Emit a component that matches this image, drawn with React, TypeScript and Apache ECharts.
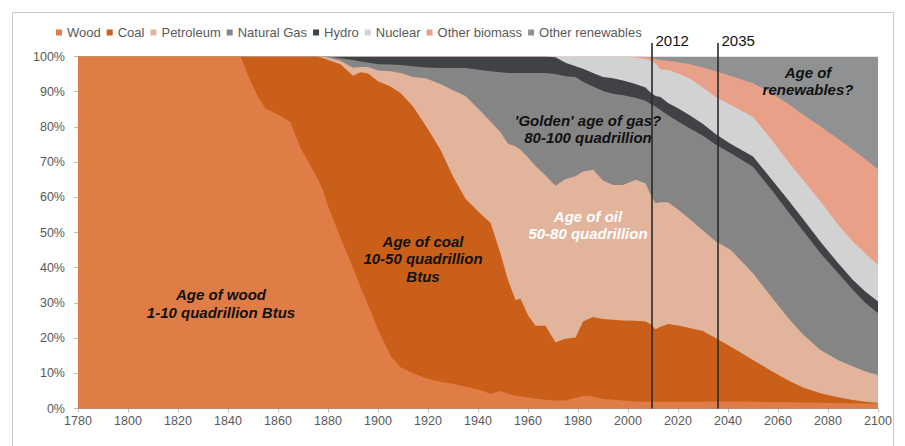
import React, { useEffect, useRef } from "react";
import * as echarts from "echarts";

const FONT = "'Liberation Sans', Arial, sans-serif";

const years = [
  1780, 1845, 1849, 1852, 1855, 1860, 1865, 1869, 1875, 1878,
  1880, 1885, 1890, 1893, 1896, 1900, 1905, 1909, 1914, 1919,
  1925, 1930, 1935, 1941, 1945, 1949, 1952, 1955, 1957, 1960, 1963, 1967,
  1971, 1975, 1979, 1982, 1986, 1990, 1994, 1998, 2003,
  2007, 2009, 2011, 2013, 2016, 2020, 2025, 2030, 2035,
  2041, 2050, 2057, 2064, 2070, 2077, 2084, 2090, 2095, 2100,
];

const wood = [
  100, 100, 93, 88.6, 85.2, 83.5, 81.3, 74, 66.5, 62,
  57.5, 48.5, 40, 34.5, 29.5, 22.5, 15, 11.7, 10, 8.7,
  7.6, 7.0, 6.2, 5.2, 4.2, 5.0, 4.2, 3.6, 3.4, 3.1, 2.8, 2.5,
  2.3, 2.3, 3.0, 3.6, 3.4, 2.7, 2.5, 2.3, 2.0,
  1.9, 1.9, 1.9, 1.9, 1.9, 1.9, 1.9, 1.9, 2.0,
  2.0, 1.9, 1.8, 1.8, 1.7, 1.6, 1.5, 1.5, 1.4, 1.4,
];

const coal = [
  0, 0, 7, 11.4, 14.8, 16.5, 18.7, 26, 33.5, 37.6,
  41.5, 49.3, 54.5, 61, 65.7, 70.5, 76.5, 77.9, 75.8, 71.8,
  65.9, 58.9, 53.4, 50.1, 48.6, 39, 32.3, 27.2, 27.8, 23.4, 20.7, 21.0,
  16.5, 17.5, 17.2, 21.1, 22.6, 22.7, 22.7, 22.7, 22.9,
  22.8, 22.1, 20.6, 21.3, 22.1, 21.7, 20.9, 20.1, 18.0,
  15.6, 11.9, 9.0, 6.2, 4.3, 2.7, 1.7, 0.9, 0.5, 0.2,
];

const petroleum = [
  0, 0, 0, 0, 0, 0, 0, 0, 0, 0.4,
  0.7, 1.0, 2.3, 1.5, 1.8, 3.0, 4.3, 5.7, 8.4, 13.3,
  18.7, 24.5, 29.2, 29.2, 28.7, 34.5, 38.7, 43.7, 42.3, 44.8, 45.4, 42.7,
  44.5, 45.4, 45.8, 42.6, 41.8, 39.4, 38.3, 38.5, 40.1,
  39.3, 36.8, 35.8, 35.4, 34.6, 32.9, 30.8, 28.6, 27.5,
  27.5, 24.6, 21.2, 17.8, 15.0, 12.3, 10.6, 9.5, 8.6, 7.9,
];

const naturalGas = [
  0, 0, 0, 0, 0, 0, 0, 0, 0, 0,
  0.3, 0.7, 2.2, 1.6, 1.3, 1.8, 1.9, 2.3, 3.0, 3.1,
  4.5, 6.3, 7.9, 11.7, 14.3, 17, 20.1, 20.8, 21.8, 24.0, 26.4, 29.1,
  31.7, 29.2, 28.2, 25.5, 23.7, 25.4, 25.9, 25.5, 23.3,
  23.4, 25.7, 27.4, 26.2, 24.7, 25.0, 25.9, 26.9, 27.5,
  27.5, 30.3, 30.5, 30.2, 29.5, 27.5, 24.7, 21.8, 19.5, 17.6,
];

const hydro = [
  0, 0, 0, 0, 0, 0, 0, 0, 0, 0,
  0, 0.5, 1.0, 1.4, 1.7, 2.2, 2.3, 2.4, 2.8, 3.1,
  3.3, 3.3, 3.3, 3.8, 4.2, 4.5, 4.7, 4.7, 4.7, 4.7, 4.7, 4.7,
  4.8, 3.8, 3.0, 3.7, 3.8, 4.0, 4.4, 4.2, 3.9,
  3.8, 3.3, 3.1, 3.7, 3.5, 3.8, 3.7, 3.3, 3.0,
  2.6, 2.9, 3.0, 3.3, 3.3, 3.3, 2.8, 2.8, 3.2, 3.3,
];

const nuclear = [
  0, 0, 0, 0, 0, 0, 0, 0, 0, 0,
  0, 0, 0, 0, 0, 0, 0, 0, 0, 0,
  0, 0, 0, 0, 0, 0, 0, 0, 0, 0, 0, 0,
  0.2, 1.8, 2.8, 3.5, 4.7, 5.8, 6.2, 6.8, 7.5,
  8.0, 9.0, 9.2, 7.9, 9.4, 9.9, 10.4, 10.4, 10.5,
  11.1, 11.2, 11.3, 10.9, 11.2, 11.4, 11.0, 10.9, 10.8, 10.4,
];

const otherBiomass = [
  0, 0, 0, 0, 0, 0, 0, 0, 0, 0,
  0, 0, 0, 0, 0, 0, 0, 0, 0, 0,
  0, 0, 0, 0, 0, 0, 0, 0, 0, 0, 0, 0,
  0, 0, 0, 0, 0, 0, 0, 0, 0.3,
  0.7, 0.9, 1.3, 2.6, 2.6, 3.2, 4.2, 5.7, 7.3,
  8.2, 9.6, 13.0, 16.4, 18.5, 21.3, 24.3, 26.1, 26.8, 27.2,
];

const otherRenewables = [
  0, 0, 0, 0, 0, 0, 0, 0, 0, 0,
  0, 0, 0, 0, 0, 0, 0, 0, 0, 0,
  0, 0, 0, 0, 0, 0, 0, 0, 0, 0, 0, 0,
  0, 0, 0, 0, 0, 0, 0, 0, 0,
  0.1, 0.3, 0.7, 1.0, 1.2, 1.6, 2.2, 3.1, 4.2,
  5.5, 7.6, 10.2, 13.4, 16.5, 19.9, 23.4, 26.5, 29.2, 32.0,
];

const seriesNames = [
  "Wood",
  "Coal",
  "Petroleum",
  "Natural Gas",
  "Hydro",
  "Nuclear",
  "Other biomass",
  "Other renewables",
];
const seriesValues = [wood, coal, petroleum, naturalGas, hydro, nuclear, otherBiomass, otherRenewables];
const seriesColors = ["#E07D46", "#C95F19", "#E2B49B", "#858585", "#414246", "#D2D2D2", "#E9A088", "#909193"];

// reference lines (drawn where the original shows them) and their labels
const markerYears = [2009.6, 2036];
const markerLabels = ["2012", "2035"];

const annotations = [
  { text: "Age of wood\n1-10 quadrillion Btus", year: 1837.2, pct: 29.8, color: "#111" },
  { text: "Age of coal\n10-50 quadrillion\nBtus", year: 1918, pct: 42.5, color: "#111" },
  { text: "'Golden' age of gas?\n80-100 quadrillion", year: 1984, pct: 79.4, color: "#111" },
  { text: "Age of oil\n50-80 quadrillion", year: 1984, pct: 52.2, color: "#ffffff" },
  { text: "Age of\nrenewables?", year: 2072, pct: 93.1, color: "#111" },
];

export default function App() {
  const ref = useRef<HTMLDivElement>(null);

  useEffect(() => {
    if (!ref.current) return;
    const chart = echarts.init(ref.current, null, { renderer: "svg" });

    const axisGray = "#BFBFBF";
    const labelGray = "#595959";

    // cumulative tops of each layer (the stack, computed from the shares)
    const cumulative: number[][] = [];
    seriesValues.forEach((vals, i) => {
      cumulative.push(
        vals.map((v, j) => Math.min(100, (i > 0 ? cumulative[i - 1][j] : 0) + v))
      );
    });

    // draw top layers first so that lower layers paint over them
    const order = seriesNames.map((_, i) => seriesNames.length - 1 - i);

    const option: any = {
      animation: false,
      backgroundColor: "#ffffff",
      textStyle: { fontFamily: FONT },
      legend: {
        data: seriesNames,
        left: 51,
        top: 21,
        icon: "rect",
        itemWidth: 6,
        itemHeight: 6,
        itemGap: 6,
        selectedMode: false,
        textStyle: { color: labelGray, fontSize: 13, fontFamily: FONT },
      },
      grid: { left: 78, right: 27, top: 56.5, bottom: 37.5, containLabel: false },
      xAxis: {
        type: "value",
        min: 1780,
        max: 2100,
        interval: 20,
        axisLine: { show: true, lineStyle: { color: axisGray, width: 1 } },
        axisTick: { show: true, length: 4, lineStyle: { color: axisGray } },
        axisLabel: {
          color: labelGray,
          fontSize: 12.5,
          margin: 6,
          fontFamily: FONT,
          formatter: (v: number) => String(v),
        },
        splitLine: { show: false },
      },
      yAxis: {
        type: "value",
        min: 0,
        max: 100,
        interval: 10,
        axisLine: { show: true, lineStyle: { color: axisGray, width: 1 } },
        axisTick: { show: true, length: 4, lineStyle: { color: axisGray } },
        axisLabel: { color: labelGray, fontSize: 12.5, margin: 13, formatter: "{value}%", fontFamily: FONT },
        splitLine: { show: false },
      },
      series: order.map((i) => ({
        name: seriesNames[i],
        type: "line",
        symbol: "none",
        showSymbol: false,
        silent: true,
        data: years.map((y, j) => [y, cumulative[i][j]]),
        lineStyle: { width: 0, color: seriesColors[i] },
        itemStyle: { color: seriesColors[i] },
        areaStyle: { color: seriesColors[i], opacity: 1, origin: "start" },
        emphasis: { disabled: true },
      })),
    };

    chart.setOption(option);

    const toPx = (x: number, y: number) => chart.convertToPixel({ gridIndex: 0 }, [x, y]) as number[];

    const graphics: any[] = [
      {
        type: "rect",
        silent: true,
        shape: { x: 12.5, y: 12.5, width: 881, height: 460 },
        style: { fill: "none", stroke: "#C9C9C9", lineWidth: 1 },
        z: 0,
      },
    ];

    markerYears.forEach((yr, i) => {
      const bottom = toPx(yr, 0);
      const top = toPx(yr, 100);
      const x = bottom[0];
      graphics.push({
        type: "line",
        silent: true,
        shape: { x1: x, y1: top[1] - 13.5, x2: x, y2: bottom[1] },
        style: { stroke: "#2a2a2a", lineWidth: 1.6 },
        z: 10,
      });
      graphics.push({
        type: "text",
        silent: true,
        x: x + 3.5,
        y: top[1] - 16,
        style: {
          text: markerLabels[i],
          fill: "#111",
          font: `15px ${FONT}`,
          align: "left",
          verticalAlign: "middle",
          textAlign: "left",
          textVerticalAlign: "middle",
        },
        z: 10,
      });
    });

    annotations.forEach((a) => {
      const p = toPx(a.year, a.pct);
      graphics.push({
        type: "text",
        silent: true,
        x: p[0],
        y: p[1],
        style: {
          text: a.text,
          fill: a.color,
          font: `italic bold 15px ${FONT}`,
          lineHeight: 17.5,
          align: "center",
          verticalAlign: "middle",
          textAlign: "center",
          textVerticalAlign: "middle",
        },
        z: 10,
      });
    });

    chart.setOption({ graphic: graphics });

    return () => {
      chart.dispose();
    };
  }, []);

  return (
    <div
      ref={ref}
      style={{ position: "absolute", left: 0, top: 0, width: 905, height: 446 }}
    />
  );
}
